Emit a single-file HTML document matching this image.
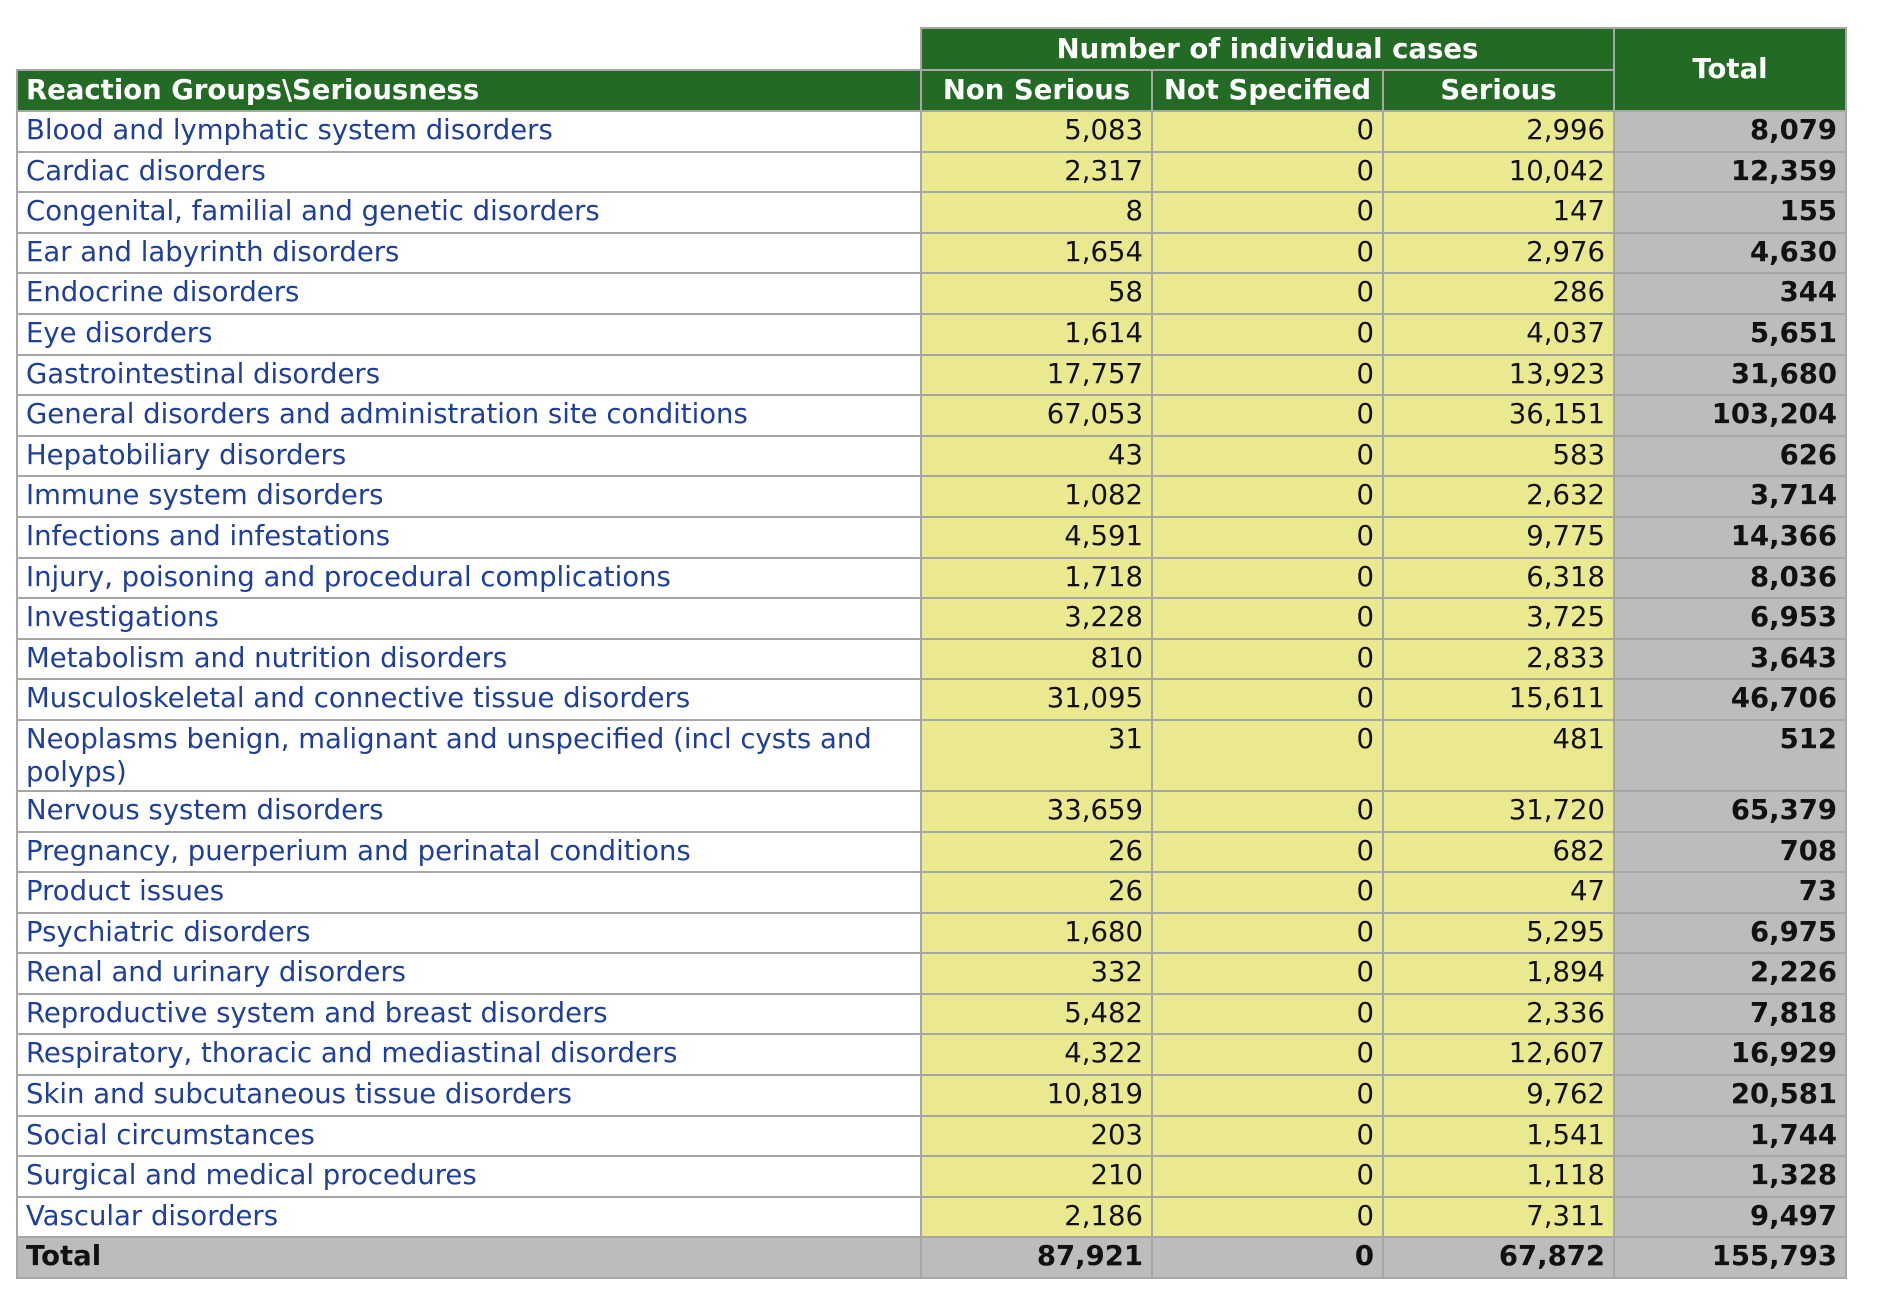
<!DOCTYPE html>
<html><head><meta charset="utf-8"><style>
html,body{margin:0;padding:0;background:#fff;width:1880px;height:1312px;overflow:hidden}
table{position:absolute;left:16px;top:27px;border-collapse:collapse;table-layout:fixed;font-family:"DejaVu Sans","Liberation Sans",sans-serif;font-size:27.5px}
td,th{border:2px solid #a6a6a6;padding:0 8px;height:39px;line-height:29px;overflow:hidden;white-space:nowrap}
th{background:#236b25;color:#fff;font-weight:bold;text-align:center}
th.l{text-align:left}
td.n{background:#ebe98f;text-align:right;color:#111}
td.t{background:#bcbcbc;text-align:right;font-weight:bold;color:#111}
td.g{color:#1f3f9c;background:#fff}
tr.b td{height:32.6px;padding-top:4px;padding-bottom:2px;vertical-align:top}
tr.tall td{height:66px;vertical-align:top;white-space:normal;line-height:33px;padding-top:2px;padding-bottom:1px}
tr.tot td{background:#bcbcbc;font-weight:bold;color:#111}
td.e{border:none;background:#fff}
</style></head><body>
<table>
<colgroup><col style="width:904px"><col style="width:231px"><col style="width:231px"><col style="width:231px"><col style="width:232px"></colgroup>
<tr style="height:42px"><td class="e"></td><th colspan="3" style="height:38px">Number of individual cases</th><th rowspan="2">Total</th></tr>
<tr><th class="l">Reaction Groups\Seriousness</th><th>Non Serious</th><th>Not Specified</th><th>Serious</th></tr>
<tr class="b"><td class="g">Blood and lymphatic system disorders</td><td class="n">5,083</td><td class="n">0</td><td class="n">2,996</td><td class="t">8,079</td></tr>
<tr class="b"><td class="g">Cardiac disorders</td><td class="n">2,317</td><td class="n">0</td><td class="n">10,042</td><td class="t">12,359</td></tr>
<tr class="b"><td class="g">Congenital, familial and genetic disorders</td><td class="n">8</td><td class="n">0</td><td class="n">147</td><td class="t">155</td></tr>
<tr class="b"><td class="g">Ear and labyrinth disorders</td><td class="n">1,654</td><td class="n">0</td><td class="n">2,976</td><td class="t">4,630</td></tr>
<tr class="b"><td class="g">Endocrine disorders</td><td class="n">58</td><td class="n">0</td><td class="n">286</td><td class="t">344</td></tr>
<tr class="b"><td class="g">Eye disorders</td><td class="n">1,614</td><td class="n">0</td><td class="n">4,037</td><td class="t">5,651</td></tr>
<tr class="b"><td class="g">Gastrointestinal disorders</td><td class="n">17,757</td><td class="n">0</td><td class="n">13,923</td><td class="t">31,680</td></tr>
<tr class="b"><td class="g">General disorders and administration site conditions</td><td class="n">67,053</td><td class="n">0</td><td class="n">36,151</td><td class="t">103,204</td></tr>
<tr class="b"><td class="g">Hepatobiliary disorders</td><td class="n">43</td><td class="n">0</td><td class="n">583</td><td class="t">626</td></tr>
<tr class="b"><td class="g">Immune system disorders</td><td class="n">1,082</td><td class="n">0</td><td class="n">2,632</td><td class="t">3,714</td></tr>
<tr class="b"><td class="g">Infections and infestations</td><td class="n">4,591</td><td class="n">0</td><td class="n">9,775</td><td class="t">14,366</td></tr>
<tr class="b"><td class="g">Injury, poisoning and procedural complications</td><td class="n">1,718</td><td class="n">0</td><td class="n">6,318</td><td class="t">8,036</td></tr>
<tr class="b"><td class="g">Investigations</td><td class="n">3,228</td><td class="n">0</td><td class="n">3,725</td><td class="t">6,953</td></tr>
<tr class="b"><td class="g">Metabolism and nutrition disorders</td><td class="n">810</td><td class="n">0</td><td class="n">2,833</td><td class="t">3,643</td></tr>
<tr class="b"><td class="g">Musculoskeletal and connective tissue disorders</td><td class="n">31,095</td><td class="n">0</td><td class="n">15,611</td><td class="t">46,706</td></tr>
<tr class="tall"><td class="g">Neoplasms benign, malignant and unspecified (incl cysts and polyps)</td><td class="n">31</td><td class="n">0</td><td class="n">481</td><td class="t">512</td></tr>
<tr class="b"><td class="g">Nervous system disorders</td><td class="n">33,659</td><td class="n">0</td><td class="n">31,720</td><td class="t">65,379</td></tr>
<tr class="b"><td class="g">Pregnancy, puerperium and perinatal conditions</td><td class="n">26</td><td class="n">0</td><td class="n">682</td><td class="t">708</td></tr>
<tr class="b"><td class="g">Product issues</td><td class="n">26</td><td class="n">0</td><td class="n">47</td><td class="t">73</td></tr>
<tr class="b"><td class="g">Psychiatric disorders</td><td class="n">1,680</td><td class="n">0</td><td class="n">5,295</td><td class="t">6,975</td></tr>
<tr class="b"><td class="g">Renal and urinary disorders</td><td class="n">332</td><td class="n">0</td><td class="n">1,894</td><td class="t">2,226</td></tr>
<tr class="b"><td class="g">Reproductive system and breast disorders</td><td class="n">5,482</td><td class="n">0</td><td class="n">2,336</td><td class="t">7,818</td></tr>
<tr class="b"><td class="g">Respiratory, thoracic and mediastinal disorders</td><td class="n">4,322</td><td class="n">0</td><td class="n">12,607</td><td class="t">16,929</td></tr>
<tr class="b"><td class="g">Skin and subcutaneous tissue disorders</td><td class="n">10,819</td><td class="n">0</td><td class="n">9,762</td><td class="t">20,581</td></tr>
<tr class="b"><td class="g">Social circumstances</td><td class="n">203</td><td class="n">0</td><td class="n">1,541</td><td class="t">1,744</td></tr>
<tr class="b"><td class="g">Surgical and medical procedures</td><td class="n">210</td><td class="n">0</td><td class="n">1,118</td><td class="t">1,328</td></tr>
<tr class="b"><td class="g">Vascular disorders</td><td class="n">2,186</td><td class="n">0</td><td class="n">7,311</td><td class="t">9,497</td></tr>
<tr class="b tot"><td>Total</td><td class="t">87,921</td><td class="t">0</td><td class="t">67,872</td><td class="t">155,793</td></tr>
</table>
</body></html>
